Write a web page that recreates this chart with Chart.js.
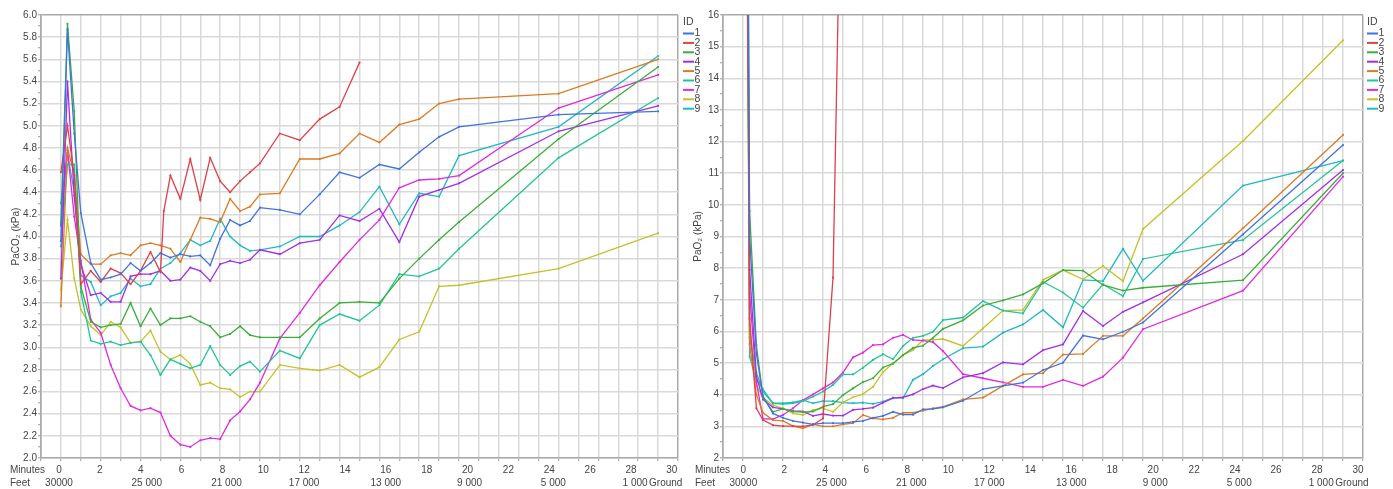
<!DOCTYPE html>
<html>
<head>
<meta charset="utf-8">
<script src="https://cdn.jsdelivr.net/npm/chart.js@4.4.1/dist/chart.umd.min.js"></script>
<style>
  html, body { margin: 0; padding: 0; background: #fff; }
  .panel { position: absolute; top: 0; }
  #leftPanel { left: 0; }
  #rightPanel { left: 690px; }
</style>
</head>
<body>
<div class="panel" id="leftPanel"><canvas id="co2Chart" width="702" height="489"></canvas></div>
<div class="panel" id="rightPanel"><canvas id="o2Chart" width="703" height="489"></canvas></div>
<script>
// subject IDs and sample times (minutes into the descent)
const ids = ['1', '2', '3', '4', '5', '6', '7', '8', '9'];
const minutesCO2 = [0, 0.33, 0.67, 1, 1.5, 2, 2.5, 3, 3.5, 4, 4.5, 5, 5.17, 5.5, 6, 6.5, 7, 7.5, 8, 8.5, 9, 9.5, 10, 11, 12, 13, 14, 15, 16, 17, 18, 19, 20, 25, 30];
const minutesO2 = [0, 0.33, 0.67, 1, 1.5, 2, 2.5, 3, 3.5, 4, 4.5, 5, 5.5, 6, 6.5, 7, 7.5, 8, 8.5, 9, 9.5, 10, 11, 12, 13, 14, 15, 16, 17, 18, 19, 20, 25, 30];

// PaCO2 (kPa) per subject
const paco2_1 = [3.96, 5.87, 4.93, 4.21, 3.76, 3.61, 3.63, 3.66, 3.76, 3.69, 3.76, 3.85, null, 3.81, 3.84, 3.82, 3.83, 3.74, 3.98, 4.15, 4.10, 4.14, 4.26, 4.24, 4.20, 4.38, 4.58, 4.53, 4.65, 4.61, 4.76, 4.90, 4.99, 5.10, 5.13];
const paco2_2 = [4.58, 5.00, 4.55, 3.57, 3.69, 3.59, 3.71, 3.67, 3.57, 3.69, 3.86, 3.68, 4.23, 4.55, 4.34, 4.70, 4.33, 4.71, 4.50, 4.40, 4.50, 4.58, 4.66, 4.93, 4.87, 5.06, 5.17, 5.57, null, null, null, null, null, null, null];
const paco2_3 = [4.12, 5.92, 5.13, 3.55, 3.23, 3.18, 3.20, 3.21, 3.40, 3.19, 3.35, 3.20, null, 3.26, 3.26, 3.28, 3.23, 3.19, 3.09, 3.12, 3.19, 3.11, 3.09, 3.09, 3.09, 3.26, 3.40, 3.41, 3.40, 3.62, 3.80, 3.97, 4.13, 4.88, 5.53];
const paco2_4 = [3.62, 5.40, 4.37, 3.75, 3.47, 3.49, 3.41, 3.41, 3.64, 3.66, 3.66, 3.69, null, 3.60, 3.61, 3.72, 3.69, 3.60, 3.75, 3.78, 3.76, 3.79, 3.88, 3.84, 3.94, 3.97, 4.19, 4.14, 4.25, 3.95, 4.36, 4.42, 4.48, 4.95, 5.18];
const paco2_5 = [3.37, 4.80, 4.56, 3.84, 3.75, 3.75, 3.83, 3.85, 3.83, 3.92, 3.94, 3.92, null, 3.89, 3.77, 3.97, 4.17, 4.16, 4.13, 4.34, 4.23, 4.27, 4.38, 4.39, 4.70, 4.70, 4.75, 4.93, 4.85, 5.01, 5.06, 5.20, 5.24, 5.29, 5.60];
const paco2_6 = [3.91, 4.65, 4.65, 3.50, 3.06, 3.03, 3.05, 3.02, 3.04, 3.05, 2.93, 2.75, null, 2.89, 2.85, 2.81, 2.84, 3.01, 2.84, 2.75, 2.83, 2.87, 2.78, 2.97, 2.90, 3.20, 3.30, 3.24, 3.38, 3.66, 3.64, 3.71, 3.89, 4.71, 5.25];
const paco2_7 = [4.10, 4.78, 4.18, 3.78, 3.25, 3.13, 2.84, 2.63, 2.47, 2.43, 2.45, 2.41, null, 2.20, 2.12, 2.10, 2.16, 2.18, 2.17, 2.34, 2.42, 2.53, 2.68, 3.08, 3.31, 3.56, 3.77, 3.97, 4.15, 4.44, 4.51, 4.52, 4.55, 5.16, 5.46];
const paco2_8 = [3.52, 4.15, 3.62, 3.34, 3.19, 3.11, 3.23, 3.18, 3.04, 3.05, 3.15, 2.96, null, 2.89, 2.93, 2.85, 2.66, 2.68, 2.63, 2.62, 2.55, 2.60, 2.60, 2.84, 2.81, 2.79, 2.84, 2.73, 2.82, 3.07, 3.14, 3.55, 3.56, 3.71, 4.03];
const paco2_9 = [4.30, 4.75, 4.40, 3.65, 3.59, 3.38, 3.46, 3.49, 3.62, 3.55, 3.57, 3.71, null, 3.76, 3.85, 3.97, 3.92, 3.96, 4.16, 4.00, 3.92, 3.87, 3.88, 3.91, 4.00, 4.00, 4.10, 4.22, 4.45, 4.11, 4.39, 4.36, 4.73, 4.99, 5.63];

// PaO2 (kPa) per subject; the first samples sit far above the axis top
const pao2_1 = [48, 9.0, 5.3, 3.95, 3.41, 3.27, 3.17, 3.12, 3.06, 3.10, 3.10, 3.10, 3.14, 3.17, 3.27, 3.33, 3.46, 3.37, 3.37, 3.54, 3.55, 3.60, 3.81, 4.18, 4.28, 4.38, 4.78, 5.01, 5.87, 5.75, 5.99, 6.28, 9.07, 11.89];
const pao2_2 = [45, 6.4, 3.57, 3.20, 3.04, 3.01, 3.01, 3.00, 3.05, 3.25, 7.70, 24.3, null, null, null, null, null, null, null, null, null, null, null, null, null, null, null, null, null, null, null, null, null, null];
const pao2_3 = [50, 9.8, 5.57, 3.90, 3.46, 3.55, 3.47, 3.45, 3.47, 3.62, 3.70, 3.99, 4.20, 4.40, 4.52, 4.86, 4.98, 5.25, 5.48, 5.55, 5.80, 6.08, 6.35, 6.82, 6.98, 7.17, 7.52, 7.94, 7.92, 7.47, 7.29, 7.38, 7.62, 11.0];
const pao2_4 = [42, 7.95, 4.57, 3.85, 3.60, 3.55, 3.49, 3.47, 3.33, 3.39, 3.34, 3.34, 3.52, 3.55, 3.59, 3.75, 3.89, 3.92, 4.01, 4.18, 4.29, 4.21, 4.55, 4.68, 5.02, 4.96, 5.41, 5.59, 6.65, 6.17, 6.62, 6.92, 8.44, 11.1];
const pao2_5 = [38, 5.6, 4.0, 3.43, 3.20, 3.17, 3.01, 2.94, 3.06, 3.00, 3.00, 3.06, 3.10, 3.36, 3.25, 3.22, 3.27, 3.43, 3.43, 3.50, 3.57, 3.62, 3.85, 3.91, 4.28, 4.64, 4.68, 5.27, 5.29, 5.86, 5.86, 6.41, 9.26, 12.21];
const pao2_6 = [44, 5.8, 4.7, 4.10, 3.73, 3.70, 3.73, 3.80, 3.94, 4.10, 4.31, 4.64, 4.64, 4.85, 5.10, 5.28, 5.12, 5.54, 5.80, 5.86, 5.99, 6.36, 6.44, 6.96, 6.66, 6.57, 7.57, 7.23, 6.75, 7.49, 7.12, 8.29, 8.89, 11.4];
const pao2_7 = [46, 7.2, 4.4, 3.24, 3.23, 3.36, 3.57, 3.83, 4.01, 4.20, 4.39, 4.70, 5.18, 5.33, 5.57, 5.59, 5.80, 5.89, 5.73, 5.71, 5.66, 5.38, 4.65, 4.52, 4.39, 4.25, 4.25, 4.47, 4.28, 4.57, 5.17, 6.07, 7.29, 10.89];
const pao2_8 = [41, 6.2, 4.3, 3.90, 3.67, 3.57, 3.41, 3.36, 3.52, 3.57, 3.46, 3.76, 3.92, 4.02, 4.25, 4.71, 4.99, 5.26, 5.41, 5.73, 5.73, 5.76, 5.54, 6.10, 6.66, 6.68, 7.63, 7.94, 7.65, 8.07, 7.59, 9.24, 12.02, 15.2];
const pao2_9 = [47, 5.2, 4.5, 4.17, 3.73, 3.73, 3.76, 3.83, 3.73, 3.80, 3.80, 3.75, 3.73, 3.75, 3.71, 3.78, 3.91, 3.89, 4.47, 4.65, 4.91, 5.12, 5.47, 5.52, 5.96, 6.22, 6.68, 6.13, 7.63, 7.59, 8.61, 7.60, 10.61, 11.4];

// bottom axis labels
const minuteLabels = [0, 2, 4, 6, 8, 10, 12, 14, 16, 18, 20, 22, 24, 26, 28, 30];
const feetLabels = ['30000', '25 000', '21 000', '17 000', '13 000', '9 000', '5 000', '1 000', 'Ground'];
const feetAt = [0, 4.3, 8.2, 12.0, 16.0, 20.1, 24.2, 28.2, 29.7];

const colors = ['#3f73e0', '#e0404a', '#3aae3a', '#a42ee8', '#de7a22', '#22c49a', '#e02ae0', '#c8c028', '#22b8c4'];
const FONT = '"Liberation Sans", Arial, sans-serif';
const TEXT = '#444';
const FRAME = '#a9a9a9';
const GRID = '#d9d9d9';

Chart.defaults.font.family = FONT;
Chart.defaults.font.size = 10;
Chart.defaults.color = TEXT;

// "ID" legend drawn in the right margin next to the plot
const idLegend = {
  id: 'idLegend',
  afterDraw(chart, args, opts) {
    const ctx = chart.ctx;
    const x = opts.x;
    ctx.save();
    ctx.font = '10.5px ' + FONT;
    ctx.fillStyle = TEXT;
    ctx.textBaseline = 'middle';
    ctx.textAlign = 'left';
    ctx.fillText('ID', x, 22);
    chart.data.datasets.forEach((ds, i) => {
      const y = 33.5 + i * 9.4;
      ctx.strokeStyle = ds.borderColor;
      ctx.lineWidth = 2;
      ctx.beginPath();
      ctx.moveTo(x, y);
      ctx.lineTo(x + 11, y);
      ctx.stroke();
      ctx.fillText(ds.label, x + 11.5, y);
    });
    ctx.restore();
  }
};

// row captions to the left of the two bottom label rows
const rowCaptions = {
  id: 'rowCaptions',
  afterDraw(chart, args, opts) {
    const ctx = chart.ctx;
    ctx.save();
    ctx.font = '10px ' + FONT;
    ctx.fillStyle = TEXT;
    ctx.textBaseline = 'middle';
    ctx.textAlign = 'left';
    ctx.fillText('Minutes', opts.x, chart.scales.lab.top + 6);
    ctx.fillText('Feet', opts.x, chart.scales.feet.top + 6);
    ctx.restore();
  }
};

function buildDatasets(minutes, series) {
  return ids.map((id, i) => ({
    label: id,
    data: minutes.map((t, k) => ({ x: t, y: series[i][k] })),
    borderColor: colors[i],
    backgroundColor: colors[i],
    borderWidth: 1.3,
    pointRadius: 1.1,
    pointBorderWidth: 0,
    pointHoverRadius: 0,
    spanGaps: true
  }));
}

function makeChart(canvas, cfg) {
  return new Chart(canvas, {
    type: 'line',
    data: { datasets: buildDatasets(cfg.minutes, cfg.series) },
    options: {
      responsive: false,
      animation: false,
      events: [],
      layout: { padding: { left: 0, top: 15, right: cfg.padRight, bottom: 0 } },
      plugins: {
        legend: { display: false },
        tooltip: { enabled: false },
        idLegend: { x: cfg.legendX },
        rowCaptions: { x: cfg.captionX }
      },
      scales: {
        x: {
          type: 'linear', position: 'bottom', weight: 0,
          min: -1, max: 31,
          ticks: { stepSize: 1, display: false },
          grid: {
            color: c => (c.tick.value === 31 || c.tick.value === -1) ? FRAME : GRID,
            lineWidth: 1.5, tickLength: 3, tickColor: '#999', tickWidth: 1
          },
          border: { color: FRAME, width: 1.5 },
          afterFit: s => { s.height = 6; }
        },
        lab: {
          type: 'linear', position: 'bottom', weight: 1,
          min: cfg.labRange[0], max: cfg.labRange[1],
          grid: { display: false, drawTicks: false }, border: { display: false },
          afterBuildTicks: s => { s.ticks = minuteLabels.map(v => ({ value: v })); },
          ticks: { autoSkip: false, maxRotation: 0, padding: 0, callback: (v, i) => String(minuteLabels[i]) },
          afterFit: s => { s.height = 13; }
        },
        feet: {
          type: 'linear', position: 'bottom', weight: 2,
          min: cfg.labRange[0], max: cfg.labRange[1],
          grid: { display: false, drawTicks: false }, border: { display: false },
          afterBuildTicks: s => { s.ticks = feetAt.map(v => ({ value: v })); },
          ticks: { autoSkip: false, maxRotation: 0, padding: 0, callback: (v, i) => feetLabels[i] },
          afterFit: s => { s.height = 12; }
        },
        y: {
          type: 'linear', position: 'left',
          min: cfg.yMin, max: cfg.yMax,
          ticks: { stepSize: cfg.yMinor, autoSkip: false, padding: 1, callback: cfg.yLabel },
          grid: {
            color: c => c.tick.value >= cfg.yMax - 1e-9 ? FRAME : (cfg.isMajor(c.tick.value) ? GRID : 'rgba(0,0,0,0)'),
            lineWidth: 1.5, tickLength: 3, tickColor: '#999', tickWidth: 1
          },
          border: { color: FRAME, width: 1.5 },
          title: { display: true, text: cfg.yTitle, font: { size: 10 }, padding: { top: cfg.titlePad, bottom: 0 } },
          afterFit: s => { s.width = cfg.yWidth; }
        }
      }
    },
    plugins: [idLegend, rowCaptions]
  });
}

// left: carbon dioxide
makeChart(document.getElementById('co2Chart'), {
  minutes: minutesCO2,
  series: [paco2_1, paco2_2, paco2_3, paco2_4, paco2_5, paco2_6, paco2_7, paco2_8, paco2_9],
  yMin: 2, yMax: 6, yMinor: 0.1,
  isMajor: v => Math.round(v * 10) % 2 === 0,
  yLabel: v => Math.round(v * 10) % 2 === 0 ? v.toFixed(1) : '',
  yTitle: 'PaCO\u2082 (kPa)',
  yWidth: 41, titlePad: 10,
  padRight: 24, legendX: 683, captionX: 10,
  labRange: [-0.88, 30.3]
});

// right: oxygen
makeChart(document.getElementById('o2Chart'), {
  minutes: minutesO2,
  series: [pao2_1, pao2_2, pao2_3, pao2_4, pao2_5, pao2_6, pao2_7, pao2_8, pao2_9],
  yMin: 2, yMax: 16, yMinor: 0.5,
  isMajor: v => Math.abs(v - Math.round(v)) < 1e-6,
  yLabel: v => Math.abs(v - Math.round(v)) < 1e-6 ? String(Math.round(v)) : '',
  yTitle: 'PaO\u2082 (kPa)',
  yWidth: 33, titlePad: 2,
  padRight: 30, legendX: 677, captionX: 5,
  labRange: [-0.99, 30.24]
});
</script>
</body>
</html>
